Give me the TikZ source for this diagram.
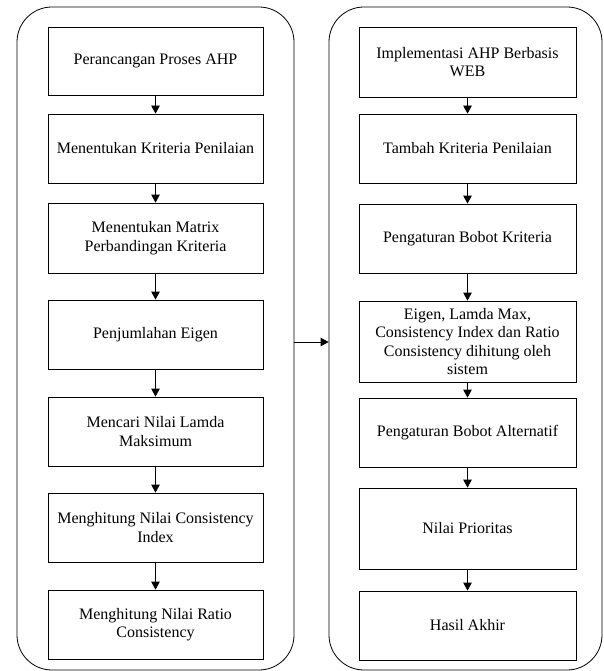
\documentclass[tikz,border=0pt]{standalone}
\usepackage{fontspec}
\setmainfont{Liberation Serif}
\usetikzlibrary{arrows.meta}
\begin{document}
\begin{tikzpicture}[x=1pt,y=-1pt,
  panel/.style={draw, line width=0.8pt, rounded corners=35pt, inner sep=0pt},
  stepbox/.style={draw, line width=0.8pt, inner sep=2pt, align=center,
    font=\fontsize{16pt}{18.5pt}\selectfont},
  flow/.style={line width=0.8pt, -{Triangle[length=8pt,width=8.5pt]}}]
\useasboundingbox (0,0) rectangle (603,671);
% panels
\node[panel, minimum width=277pt, minimum height=663pt] (L) at (155.5,338.5) {};
\node[panel, minimum width=273pt, minimum height=663pt] (R) at (465.5,338.5) {};
% left boxes
\foreach \n/\y/\h/\t in {
  l1/61/68/{Perancangan Proses AHP},
  l2/148.5/69/{Menentukan Kriteria Penilaian},
  l3/238/70/{Menentukan Matrix\\Perbandingan Kriteria},
  l4/334.5/69/{Penjumlahan Eigen},
  l5/431.5/69/{Mencari Nilai Lamda\\Maksimum},
  l6/527.5/69/{Menghitung Nilai Consistency\\Index},
  l7/624.5/69/{Menghitung Nilai Ratio\\Consistency}}
  \node[stepbox, minimum width=215pt, minimum height=\h pt] (\n) at (155.5,\y) {\t};
% right boxes
\foreach \n/\y/\h/\t in {
  r1/62/70/{Implementasi AHP Berbasis\\WEB},
  r2/148.5/69/{Tambah Kriteria Penilaian},
  r3/238.5/69/{Pengaturan Bobot Kriteria},
  r4/341.5/81/{Eigen, Lamda Max,\\Consistency Index dan Ratio\\Consistency dihitung oleh\\sistem},
  r5/432.5/69/{Pengaturan Bobot Alternatif},
  r6/528.5/81/{Nilai Prioritas},
  r7/625.5/69/{Hasil Akhir}}
  \node[stepbox, minimum width=217pt, minimum height=\h pt] (\n) at (467.5,\y) {\t};
% connectors
\foreach \a/\b in {l1/l2,l2/l3,l3/l4,l4/l5,l5/l6,l6/l7,r1/r2,r2/r3,r3/r4,r4/r5,r5/r6,r6/r7}
  \draw[flow] (\a) -- (\b);
\draw[flow] ([yshift=-3.5pt]L.east) -- ([yshift=-3.5pt]R.west);
\end{tikzpicture}
\end{document}
